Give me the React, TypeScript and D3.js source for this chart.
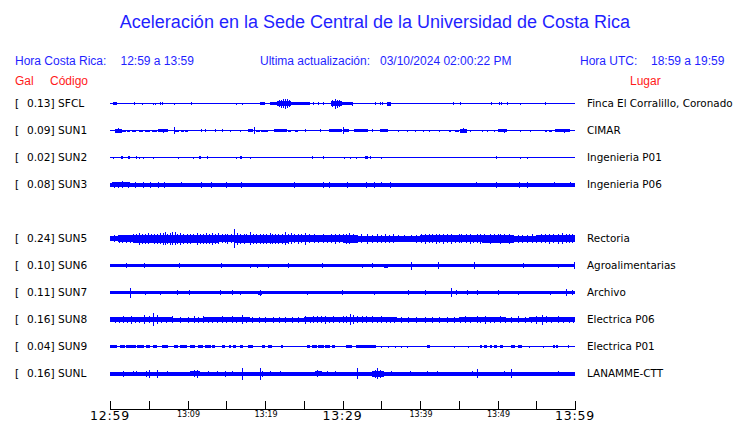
import React from "react";
import * as d3 from "d3";

// ---------- data ----------
const title = "Aceleración en la Sede Central de la Universidad de Costa Rica";
const localRange = "12:59 a 13:59";
const utcRange = "18:59 a 19:59";
const updated = "03/10/2024 02:00:22 PM";

// rows (SUN4 slot kept empty)
const rowCodes = ["SFCL", "SUN1", "SUN2", "SUN3", "SUN4", "SUN5", "SUN6", "SUN7", "SUN8", "SUN9", "SUNL"];
const codes = ["SFCL", "SUN1", "SUN2", "SUN3", "SUN5", "SUN6", "SUN7", "SUN8", "SUN9", "SUNL"];
const galValues = [0.13, 0.09, 0.02, 0.08, 0.24, 0.1, 0.11, 0.16, 0.04, 0.16];
const places = [
  "Finca El Corralillo, Coronado",
  "CIMAR",
  "Ingenieria P01",
  "Ingenieria P06",
  "Rectoria",
  "Agroalimentarias",
  "Archivo",
  "Electrica P06",
  "Electrica P01",
  "LANAMME-CTT",
];
// background amplitude of each trace (counts)
const baseAmp = [0.6, 0.6, 0.6, 2.0, 2.6, 1.6, 1.6, 2.2, 0.6, 1.8];

// segments: [startMinute, endMinute, amplitude]
const sfclSegs: number[][] = [[0.4, 0.9, 1.3], [19.4, 20.0, 1.4], [20.6, 21.9, 1.4], [21.6, 23.3, 2.6], [23.2, 25.8, 1.4], [28.5, 29.9, 2.6], [29.9, 31.2, 1.4], [35.7, 36.3, 1.8]];
const sfclSpikes: number[][] = [[3.1, 1.5], [4.1, 1], [5.6, 1.2], [5.8, 1.2], [6.5, 1.5], [6.75, 1.5], [8.2, 1.2], [10.5, 1.5], [16.3, 1], [17, 1.2], [21.8, 3.3], [22.1, 3.8], [22.3, 4.5], [22.6, 5.2], [22.9, 4.3], [23.1, 3.4], [26.2, 1.5], [26.9, 1.5], [27.5, 1.3], [28.7, 3.4], [29.0, 5], [29.3, 4.2], [29.6, 3.5], [31.2, 1.8], [34.2, 1.5], [34.8, 1.5], [35.1, 1.3], [36.0, 2.2], [44.3, 1.3], [45.2, 1.3], [49.2, 1.6], [50.2, 1.5], [50.5, 1.5], [51.2, 1.3], [52.9, 1.2], [56.1, 1.3]];

const sun1Segs: number[][] = [[0.6, 1.5, 2.2], [1.5, 2.0, 1.2], [2.2, 2.6, 1.2], [2.8, 3.4, 1.2], [3.7, 4.3, 1.2], [4.5, 5.1, 1.2], [5.4, 6.0, 1.2], [6.2, 7.5, 1.6], [8.4, 8.9, 1.2], [9.1, 9.6, 1.2], [9.7, 10.1, 1.2], [17.8, 18.5, 1.5], [18.9, 19.3, 1.2], [19.5, 20.4, 1.2], [21.1, 22.8, 1.5], [23.0, 23.4, 1.2], [23.9, 24.2, 1.2], [28.3, 29.9, 1.7], [30.1, 30.8, 1.4], [31.5, 33.3, 1.5], [34.8, 35.9, 1.3], [43.7, 44.0, 1.2], [44.5, 45.0, 1.2], [45.2, 46.0, 2], [50.1, 51.2, 1.6], [56.1, 56.4, 1.2], [56.7, 57.0, 1.2], [57.4, 59.4, 1.6]];
const sun1Spikes: number[][] = [[1.0, 2.7], [6.8, 2], [8.2, 3.4], [11.8, 1.3], [12.3, 1.3], [13.5, 1.3], [14.4, 1.3], [15.5, 1], [16.8, 1.2], [18.6, 3.5], [25.2, 1.3], [27.1, 1.3], [30.0, 3.5], [33.8, 1.3], [37.2, 1.2], [38.3, 1.2], [39.4, 1.2], [40.4, 1.2], [41.1, 1.2], [42.4, 1.2], [45.6, 2.3], [46.5, 1.2], [48.0, 1.2], [48.6, 1.2], [49.5, 1.2], [50.9, 2.2], [52.9, 1.2], [54.2, 1.2], [58.6, 2.2]];

const sun2Segs: number[][] = [[1.4, 1.7, 1.5], [2.3, 2.6, 1.5], [11.5, 11.8, 1.5], [16.8, 17.0, 1.5], [32.9, 33.3, 1.5]];
const sun2Spikes: number[][] = [[0.4, 1], [3.3, 1.3], [3.7, 1], [4.3, 1], [5.5, 0.9], [8.8, 0.9], [10.75, 1], [12.5, 1.3], [16.3, 1.2], [18.1, 1], [26.1, 1.4], [27.5, 1.4], [30.2, 1], [31.0, 1], [31.8, 1.2], [33.6, 1.3], [35.0, 1], [49.8, 1.5], [52.9, 1], [53.8, 1]];

const sun3Segs: number[][] = [[0.2, 2.6, 2.6]];
const sun3Spikes: number[][] = [[0.5, 3], [1.0, 3], [1.5, 3.5], [2.3, 3], [3.2, 2.8], [4.3, 2.8], [5.2, 2.8], [6.2, 2.8], [7.0, 2.8], [9.2, 2.6], [11.7, 3], [13.0, 3], [15.0, 2.8], [16.9, 3], [23.7, 2.8], [27.5, 2.8], [28.3, 2.8], [30.6, 2.8], [33.0, 2.8], [34.0, 2.8], [35.0, 2.6], [36.1, 2.8], [47.2, 2.6], [49.8, 2.8], [52.8, 2.8], [53.8, 2.8], [57.3, 2.6], [59.3, 2.6]];

const sun5Segs: number[][] = [[0, 1, 2.6], [1, 3, 3.3], [3, 4, 3.8], [4, 9, 4.2], [9, 14, 4.0], [14, 16, 3.7], [16, 19, 4.0], [19, 23, 4.2], [23, 26, 3.7], [26, 30, 3.4], [30, 32, 3.8], [32, 37, 3.2], [37, 40, 2.8], [40, 44, 3.7], [44, 48, 3.5], [48, 52, 3.8], [52, 55, 3.2], [55, 60, 3.5]];
const sun5Spikes: number[][] = [[0.5, 3.5], [1.2, 4.0], [1.6, 3.8], [2.1, 4.2], [2.6, 4.0], [3.0, 4.5], [3.4, 4.3], [3.7, 6.0], [4.1, 4.8], [4.5, 5.2], [4.9, 5.3], [5.3, 4.6], [5.7, 5.0], [6.1, 5.2], [6.4, 5.5], [6.8, 5.8], [7.1, 6.5], [7.4, 5.2], [7.7, 5.8], [8.0, 6.5], [8.4, 6.3], [8.7, 5.2], [9.0, 6.0], [9.4, 4.8], [9.9, 5.0], [10.3, 5.2], [10.7, 4.6], [11.2, 5.8], [11.6, 4.8], [12.0, 5.0], [12.4, 5.6], [12.8, 5.0], [13.1, 5.8], [13.5, 4.8], [13.9, 5.3], [14.4, 4.5], [14.8, 4.4], [15.1, 5.0], [15.6, 4.6], [16.0, 9.3], [16.4, 6.0], [16.8, 4.8], [17.3, 5.0], [17.6, 4.6], [18.0, 6.3], [18.5, 4.8], [18.9, 5.0], [19.3, 4.8], [19.7, 5.2], [20.1, 5.0], [20.6, 5.3], [20.9, 5.0], [21.3, 5.0], [21.7, 4.8], [22.2, 5.2], [22.6, 6.7], [23.0, 5.2], [23.3, 5.7], [23.8, 4.6], [24.2, 5.0], [24.6, 4.5], [25.2, 6.0], [25.7, 4.3], [26.3, 4.5], [26.8, 4.2], [27.5, 4.5], [28.0, 4.2], [28.5, 4.4], [29.0, 5.0], [29.5, 4.3], [30.0, 4.5], [30.4, 4.8], [30.8, 5.6], [31.3, 4.5], [31.8, 4.2], [32.4, 4.3], [33.2, 4.8], [33.8, 4.2], [34.5, 4.3], [35.0, 4.0], [35.5, 4.5], [36.0, 4.2], [36.5, 4.5], [37.2, 3.6], [38.0, 3.5], [38.8, 3.6], [39.5, 3.8], [40.1, 4.4], [40.6, 5.0], [41.2, 4.4], [41.6, 4.3], [42.0, 5.0], [42.5, 4.6], [43.0, 4.8], [43.5, 4.3], [44.0, 5.0], [44.5, 4.2], [45.0, 4.4], [45.3, 4.6], [45.9, 4.3], [46.4, 4.8], [46.9, 4.2], [47.3, 4.5], [47.8, 4.8], [48.3, 4.4], [49.0, 4.8], [49.5, 4.5], [50.0, 4.6], [50.3, 5.0], [50.8, 4.4], [51.5, 4.8], [52.0, 4.2], [52.6, 4.0], [53.2, 4.2], [53.8, 4.0], [54.5, 4.5], [55.0, 4.0], [55.6, 4.3], [56.1, 4.4], [56.6, 5.0], [57.2, 4.3], [57.8, 4.8], [58.3, 5.3], [58.8, 4.4], [59.2, 4.3], [59.6, 4.5]];

const sun6Segs: number[][] = [[35.3, 35.9, 2.2]];
const sun6Spikes: number[][] = [[2.1, 2.7], [4.4, 2.5], [8.9, 2.5], [14.3, 2.7], [18.1, 1.8], [19.0, 1.8], [20.4, 1.8], [23.0, 2.5], [27.3, 2.5], [32.5, 2], [33.8, 2.5], [38.9, 4], [42.3, 3.3], [47.0, 3.3], [53.3, 2.3], [57.8, 2], [59.9, 3.3]];

const sun7Segs: number[][] = [[19.1, 19.6, 2.0]];
const sun7Spikes: number[][] = [[2.6, 5], [4.5, 2], [6.5, 2], [8.6, 2.5], [10.2, 2.3], [14.2, 2.5], [15.7, 2.3], [16.8, 2], [19.4, 2.8], [25.4, 2], [29.9, 2.5], [34.0, 2], [38.5, 2.3], [40.6, 2.3], [44.0, 4.7], [44.7, 2.5], [46.0, 2.3], [47.3, 2.3], [50.0, 2.3], [52.7, 2], [56.8, 2], [58.9, 3.7], [59.6, 2.3]];

const sun8Segs: number[][] = [[0, 8, 2.7], [12, 18, 2.6], [25, 37, 2.6], [45, 51, 2.6], [54, 60, 2.6]];
const sun8Spikes: number[][] = [[0.6, 3], [1.2, 3.2], [1.7, 3.5], [2.2, 3.2], [2.7, 4], [3.2, 3.2], [3.7, 3], [4.4, 4.7], [5.0, 3.7], [5.6, 6.5], [6.0, 4.5], [6.6, 3.2], [7.2, 3], [8.0, 3.3], [9.0, 2.9], [10.0, 3], [10.8, 3.7], [11.3, 3], [12.0, 3.3], [12.6, 3], [13.2, 3.2], [13.8, 3], [14.4, 3.5], [15.0, 3.2], [15.7, 3.5], [16.3, 3.2], [17.0, 4.5], [17.6, 3.2], [18.3, 3], [19.2, 2.9], [20.0, 3], [21.0, 3], [21.8, 2.9], [22.6, 3.2], [23.5, 3], [24.3, 3.2], [25.2, 4], [25.8, 3.2], [26.2, 3.4], [26.7, 3.7], [27.2, 3.3], [27.7, 4], [28.2, 3.2], [28.8, 3.3], [29.5, 3.2], [30.0, 3.4], [30.5, 3.5], [31.0, 5.5], [31.4, 4.3], [31.9, 3.5], [32.5, 3.7], [33.0, 3.3], [33.8, 3.5], [34.4, 3.2], [35.0, 3.7], [35.6, 3.2], [36.1, 3], [36.6, 3.2], [37.5, 2.9], [38.5, 3], [39.5, 2.9], [40.6, 3.2], [41.5, 3], [42.5, 2.9], [43.5, 3], [44.4, 3], [45.2, 3.2], [45.8, 3.5], [46.5, 3.2], [47.3, 3.7], [47.8, 3.2], [48.4, 4], [49.0, 3.2], [49.6, 3.2], [50.3, 3.4], [51.0, 3], [51.8, 3], [52.7, 3.3], [53.5, 3], [54.3, 3.2], [55.0, 4], [55.7, 5], [56.3, 3.3], [56.9, 3.2], [57.8, 3.4], [58.5, 3.2], [59.2, 3], [59.7, 3.2]];

const sun9Segs: number[][] = [[0, 0.9, 1.3], [1.3, 1.9, 1.3], [2.1, 3.3, 1.3], [3.5, 4.4, 1.3], [4.6, 5.2, 1.3], [5.6, 6.0, 1.3], [6.7, 7.5, 1.3], [8.2, 8.8, 1.3], [9.0, 9.9, 1.3], [10.3, 11.0, 1.3], [11.4, 12.0, 1.3], [12.2, 13.0, 1.3], [13.2, 13.5, 1.3], [14.4, 14.8, 1.3], [15.3, 15.6, 1.3], [15.9, 16.3, 1.3], [16.8, 17.2, 1.3], [17.8, 18.5, 1.3], [19.6, 20.0, 1.3], [20.4, 20.9, 1.3], [22.1, 22.3, 1.3], [25.4, 25.8, 1.3], [26.0, 26.7, 1.3], [26.9, 27.6, 1.3], [27.8, 28.4, 1.3], [28.6, 29.0, 1.3], [30.5, 31.2, 1.3], [31.8, 34.3, 1.5], [40.9, 41.3, 1.3], [47.7, 48.0, 1.3], [48.3, 48.6, 1.3], [49.0, 49.3, 1.3], [49.6, 49.9, 1.3], [50.3, 50.7, 1.3], [51.8, 52.2, 1.3], [52.6, 53.1, 1.3], [57.2, 57.4, 1.3], [57.6, 57.8, 1.3]];
const sun9Spikes: number[][] = [[35.0, 1.2], [35.9, 1.2], [36.8, 1.2], [37.6, 1.2], [38.3, 1.2], [44.4, 1.2], [46.2, 1.2], [54.0, 1.2], [55.9, 1.2], [59.1, 1.3]];

const sunlSegs: number[][] = [[10.3, 11.6, 2.6], [26.4, 27.3, 2.6], [33.8, 35.3, 2.8]];
const sunlSpikes: number[][] = [[1.7, 3], [3.0, 2.5], [3.4, 2.5], [4.7, 3], [5.0, 4], [6.0, 4], [7.3, 2.5], [10.8, 3.3], [11.2, 4], [12.7, 2.3], [13.8, 2.5], [14.8, 3], [15.7, 2.7], [17.0, 6], [19.4, 6], [19.6, 3], [20.6, 2.5], [21.9, 2.5], [26.7, 3.3], [28.0, 2.5], [29.0, 2.5], [31.9, 5.3], [34.2, 3.8], [34.5, 5.5], [34.9, 4], [36.3, 2.5], [38.7, 2.5], [40.9, 2.3], [42.2, 2.5], [43.7, 2], [45.0, 2], [46.7, 2.5], [47.3, 4.7], [50.8, 2.5], [51.8, 4.3], [53.8, 2], [55.0, 2], [57.8, 2.5], [58.9, 2]];

const allSegs = [sfclSegs, sun1Segs, sun2Segs, sun3Segs, sun5Segs, sun6Segs, sun7Segs, sun8Segs, sun9Segs, sunlSegs];
const allSpikes = [sfclSpikes, sun1Spikes, sun2Spikes, sun3Spikes, sun5Spikes, sun6Spikes, sun7Spikes, sun8Spikes, sun9Spikes, sunlSpikes];

const axisTicks = ["12:59", "13:04", "13:09", "13:14", "13:19", "13:24", "13:29", "13:34", "13:39", "13:44", "13:49", "13:54", "13:59"];
const bigLabels = ["12:59", "13:29", "13:59"];
const smallLabels = ["13:09", "13:19", "13:39", "13:49"];

// ---------- chart ----------
const W = 740;
const H = 423;
const BLUE = "#0000ff";
const HEAD = "#1f1fff";
const RED = "#ff1a1a";
const SANS = "'Liberation Sans', Arial, sans-serif";
const DJ = "'DejaVu Sans', sans-serif";

const t0 = new Date(2024, 2, 10, 12, 59);
const t1 = new Date(2024, 2, 10, 13, 59);
const toDate = (m: number) => new Date(t0.getTime() + m * 60000);
const parseHM = (s: string) => {
  const [h, mm] = s.split(":").map(Number);
  return new Date(2024, 2, 10, h, mm);
};

export default function App() {
  const x = d3.scaleTime().domain([t0, t1]).range([110, 575]);
  const y = d3.scalePoint<string>().domain(rowCodes).range([103.5, 373.5]);
  const amp = d3.scaleLinear().domain([0, 1]).range([0, 1]);

  const bar = (cy: number, xa: number, xb: number, a: number, key: string) => {
    const h = Math.max(1, Math.round(2 * amp(a)));
    const top = Math.round(cy - h / 2);
    const left = Math.round(xa);
    const w = Math.max(1, Math.round(xb) - left);
    return <rect key={key} x={left} y={top} width={w} height={h} fill={BLUE} />;
  };

  return (
    <svg
      width={W}
      height={H}
      style={{ position: "absolute", left: 0, top: 0, background: "#fff" }}
      shapeRendering="crispEdges"
    >
      <rect x={0} y={0} width={W} height={H} fill="#fff" />
      <text x={375} y={28} textAnchor="middle" fontFamily={SANS} fontSize={18} fill={HEAD} shapeRendering="auto">
        {title}
      </text>

      <g fontFamily={SANS} fontSize={12} fill={HEAD}>
        <text x={15} y={65}>Hora Costa Rica:</text>
        <text x={120.5} y={65}>{localRange}</text>
        <text x={260} y={65}>Ultima actualización:</text>
        <text x={380} y={65}>{updated}</text>
        <text x={580} y={65}>Hora UTC:</text>
        <text x={651} y={65}>{utcRange}</text>
      </g>
      <g fontFamily={SANS} fontSize={12} fill={RED}>
        <text x={15} y={85}>Gal</text>
        <text x={50} y={85}>Código</text>
        <text x={630} y={85}>Lugar</text>
      </g>

      {codes.map((c, i) => {
        const cy = y(c) as number;
        return (
          <g key={c}>
            <text x={15} y={cy + 3.8} fontFamily={DJ} fontSize={10.6} fill="#000">[</text>
            <text x={27} y={cy + 3.8} fontFamily={DJ} fontSize={10.6} fill="#000">
              {`${galValues[i].toFixed(2)}] ${c}`}
            </text>
            <text x={587} y={cy + 3.8} fontFamily={DJ} fontSize={10.4} fill="#000">
              {places[i]}
            </text>
            {bar(cy, x(t0), x(t1), baseAmp[i], "base")}
            {allSegs[i].map((s, j) => bar(cy, x(toDate(s[0])), x(toDate(s[1])), s[2], "s" + j))}
            {allSpikes[i].map((s, j) => bar(cy, x(toDate(s[0])), x(toDate(s[0])) + 1, s[1], "p" + j))}
          </g>
        );
      })}

      <g>
        <line x1={x(t0)} x2={x(t1)} y1={409.5} y2={409.5} stroke="#000" strokeWidth={1} />
        {axisTicks.map((t) => {
          const xx = Math.round(x(parseHM(t))) + 0.5;
          return <line key={t} x1={xx} x2={xx} y1={401} y2={409.5} stroke="#000" strokeWidth={1} />;
        })}
        {bigLabels.map((t) => (
          <text key={t} x={x(parseHM(t))} y={420} textAnchor="middle" fontFamily={DJ} fontSize={12.5} fill="#000" letterSpacing={0.8}>
            {t}
          </text>
        ))}
        {smallLabels.map((t) => (
          <text key={t} x={x(parseHM(t)) + 1} y={417} textAnchor="middle" fontFamily={DJ} fontSize={8} fill="#000">
            {t}
          </text>
        ))}
      </g>
    </svg>
  );
}
